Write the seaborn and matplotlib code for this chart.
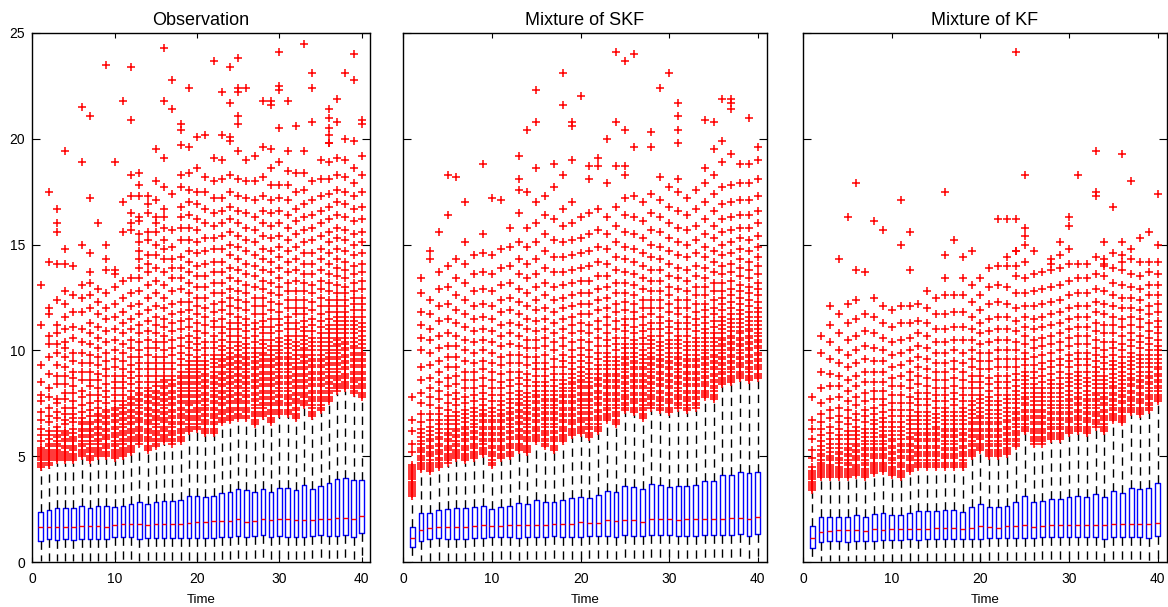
import numpy as np
import pandas as pd
import matplotlib
matplotlib.use("Agg")
import matplotlib.pyplot as plt
import seaborn as sns

# ---------------------------------------------------------------- data
time = list(range(1, 41))

titles = ["Observation", "Mixture of SKF", "Mixture of KF"]
x_ticks = [0, 10, 20, 30, 40]
y_ticks = [0, 5, 10, 15, 20, 25]

# Observation: quartiles, median, whisker ends
obs_q1 = [1.01, 1.07, 1.04, 1.08, 1.04, 1.07, 1.07, 1.10, 1.08, 1.18, 1.16, 1.18, 1.08, 1.12, 1.13, 1.13, 1.15, 1.15, 1.13, 1.13,
          1.13, 1.15, 1.16, 1.16, 1.23, 1.16, 1.23, 1.28, 1.20, 1.25, 1.20, 1.20, 1.18, 1.25, 1.26, 1.23, 1.23, 1.28, 1.18, 1.35]
obs_med = [1.67, 1.67, 1.65, 1.65, 1.67, 1.70, 1.68, 1.68, 1.65, 1.75, 1.80, 1.80, 1.80, 1.75, 1.80, 1.80, 1.80, 1.80, 1.83, 1.87,
           1.87, 1.92, 1.92, 1.92, 2.02, 1.87, 1.92, 2.05, 1.98, 2.05, 2.02, 1.97, 1.97, 1.98, 2.05, 2.05, 2.10, 2.10, 2.05, 2.17]
obs_q3 = [2.38, 2.46, 2.54, 2.55, 2.54, 2.65, 2.54, 2.65, 2.65, 2.61, 2.66, 2.73, 2.85, 2.74, 2.82, 2.90, 2.87, 2.93, 3.12, 3.14,
          3.09, 3.10, 3.28, 3.32, 3.43, 3.39, 3.31, 3.47, 3.32, 3.51, 3.48, 3.39, 3.64, 3.47, 3.60, 3.73, 3.94, 3.99, 3.86, 3.88]
obs_whi = [4.4, 4.5, 4.7, 4.7, 4.7, 4.9, 4.7, 4.9, 4.9, 4.8, 4.9, 5.1, 5.5, 5.2, 5.4, 5.6, 5.5, 5.6, 6.1, 6.2,
           6.0, 6.0, 6.5, 6.6, 6.7, 6.7, 6.4, 6.8, 6.5, 6.9, 6.9, 6.7, 7.3, 6.8, 7.1, 7.5, 8.0, 8.1, 7.9, 7.7]
obs_wlo = 0.03

# Observation outliers per time step (tenths)
obs_fliers = [
    "45 46 47 48 49 50 51 52 53 54 57 60 63 67 71 76 79 85 93 112 131",
    "46 47 48 49 50 51 52 53 55 56 58 60 62 66 69 73 78 82 89 97 103 107 117 120 142 175",
    "48 49 50 51 52 53 55 56 57 59 60 62 64 68 71 75 77 84 88 93 99 103 108 112 124 141 156 160 167",
    "48 49 50 51 52 54 55 57 58 60 61 62 65 67 70 73 77 80 84 88 92 97 101 104 110 116 122 128 141 148 194",
    "48 49 50 51 53 54 55 57 58 59 61 63 66 68 70 73 76 80 83 87 90 95 99 106 111 118 126 140",
    "50 51 52 53 55 56 57 59 60 62 63 65 66 68 71 74 78 81 86 90 94 99 104 110 118 125 131 150 189 215",
    "48 49 50 52 53 54 56 57 59 60 62 63 65 66 69 72 75 79 83 86 90 94 98 103 108 113 120 126 132 137 146 172 211",
    "50 51 52 53 54 56 57 58 60 61 63 64 66 67 69 70 73 76 79 82 86 89 93 97 101 106 111 117 123 129 160",
    "50 51 52 54 55 56 58 59 60 62 63 65 66 68 69 71 72 75 78 81 84 88 91 95 99 104 109 115 120 127 138 143 150 235",
    "49 50 51 52 53 55 56 57 59 60 61 63 64 66 67 69 70 72 73 76 79 82 85 88 92 96 100 105 110 116 122 130 136 138 189",
    "50 51 52 53 54 56 57 58 60 61 62 64 65 67 68 70 71 73 74 76 79 82 85 88 91 95 99 103 108 113 118 125 133 156 170 218",
    "52 53 54 55 57 58 59 61 62 63 65 66 68 69 71 72 74 75 77 78 81 84 87 90 93 97 101 105 110 115 121 127 134 157 160 165 173 183 209 234",
    "56 57 58 59 60 62 63 64 66 67 68 70 71 73 74 76 77 79 80 82 85 88 91 94 97 100 104 108 112 117 122 128 134 139 143 147 151 155 161 163 173 178 184",
    "53 54 55 57 58 59 61 62 63 65 66 67 69 70 72 73 75 76 78 79 81 82 85 88 91 94 98 101 105 109 114 119 125 131 137 141 145 152 156 165 169 173",
    "55 56 57 58 60 61 62 64 65 67 68 69 71 72 74 75 77 78 80 81 83 85 88 91 94 97 101 104 108 112 116 121 127 133 139 145 150 156 160 163 171 180 195",
    "57 58 59 60 62 63 64 66 67 68 70 71 73 74 76 77 79 80 82 83 85 86 88 91 94 97 100 104 107 111 115 120 125 131 137 143 148 152 158 163 167 177 191 218 243",
    "56 57 58 60 61 62 64 65 66 68 69 71 72 74 75 77 78 80 81 83 84 86 88 91 94 98 101 105 109 113 117 122 128 134 139 143 149 157 174 214 228",
    "57 58 59 61 62 63 65 66 68 69 70 72 73 75 76 78 79 81 82 84 85 87 88 90 93 96 99 102 106 110 114 118 123 129 134 139 144 152 158 163 168 177 183 197 204 207",
    "62 63 64 65 67 68 69 71 72 74 75 76 78 79 81 82 84 85 87 88 90 91 93 95 98 101 104 107 111 115 119 123 127 132 137 142 147 152 158 164 170 176 184 196 224",
    "63 64 65 67 68 69 71 72 73 75 76 78 79 81 82 84 85 87 88 90 91 93 95 97 100 103 106 109 113 117 121 125 130 135 140 146 151 157 162 169 175 186 201",
    "61 62 63 65 66 67 69 70 72 73 74 76 77 79 80 82 83 85 86 88 89 91 93 95 98 101 104 108 112 116 120 125 130 135 141 147 153 160 167 175 182 202",
    "61 62 63 65 66 68 69 70 72 73 75 76 78 79 81 82 84 85 87 88 90 92 94 96 98 101 104 107 111 114 118 122 127 132 137 142 148 153 159 165 172 180 191 237",
    "66 67 68 70 71 72 74 75 77 78 80 81 83 84 86 87 89 90 92 93 95 96 98 100 102 105 108 111 115 119 123 127 132 137 142 148 154 160 166 172 181 190 202 222",
    "67 68 69 71 72 73 75 76 78 79 81 82 84 85 87 88 90 91 93 94 96 97 99 101 104 107 110 113 117 121 125 129 134 139 145 150 156 162 168 175 183 199 201 217 234",
    "68 69 70 72 73 75 76 77 79 80 82 83 85 86 88 89 91 92 94 95 97 98 100 102 104 107 110 113 116 120 124 128 133 138 143 149 154 160 166 173 181 194 207 211 222 224 238",
    "68 69 71 72 73 75 76 78 79 81 82 84 85 87 88 90 91 93 94 96 97 99 101 103 106 109 112 115 119 123 127 131 136 141 147 152 158 165 172 180 190 224",
    "65 66 67 69 70 71 73 74 76 77 79 80 82 83 85 86 88 89 91 92 94 95 97 99 101 104 107 110 113 117 121 125 130 135 140 145 151 157 163 171 180 192",
    "69 70 71 73 74 75 77 78 80 81 83 84 86 87 89 90 92 93 95 96 98 99 101 103 105 108 111 114 117 121 125 129 133 138 143 148 154 160 166 173 182 196 218",
    "66 67 68 70 71 72 74 75 77 78 80 81 83 84 86 87 89 90 92 93 95 96 98 100 102 105 108 111 115 119 123 127 132 137 142 147 153 159 165 171 178 186 195 216 218",
    "70 71 72 74 75 76 78 79 81 82 84 85 87 88 90 91 93 94 96 97 99 100 102 104 106 109 112 115 118 122 126 130 134 139 144 149 154 160 166 172 178 189 205 223 225 241",
    "70 71 72 74 75 77 78 79 81 82 84 85 87 88 90 91 93 94 96 97 99 101 103 105 107 110 113 116 120 124 128 132 137 142 147 152 158 164 171 178 185 194 218",
    "68 69 70 72 73 75 76 77 79 80 82 83 85 86 88 89 91 92 94 96 98 100 102 104 107 110 113 117 120 124 128 133 138 143 149 155 161 167 175 184 206",
    "74 75 76 78 79 80 82 83 85 86 88 89 91 92 94 95 97 98 100 101 103 105 107 109 111 114 117 120 124 128 132 136 141 146 151 157 163 169 176 184 194 245",
    "69 70 71 73 74 76 77 78 80 81 83 84 86 87 89 90 92 93 95 96 98 100 102 104 106 109 112 115 119 123 127 131 136 141 146 152 158 164 171 180 208 224 231",
    "72 73 74 76 77 78 80 81 83 84 86 87 89 90 92 93 95 96 98 100 102 104 106 108 111 114 117 121 125 129 133 138 143 148 154 160 166 173 181 190",
    "76 77 78 80 81 82 84 85 87 88 90 91 93 94 96 97 99 100 102 104 106 108 110 112 115 118 121 124 128 132 136 141 146 151 156 162 168 174 181 189 198 198 202 205 210 214",
    "81 82 83 84 86 87 88 90 91 93 94 96 97 99 100 102 103 105 106 108 110 112 114 116 118 121 124 127 131 135 139 143 148 153 158 164 170 176 183 191 208 219",
    "82 83 84 85 87 88 89 91 92 94 95 97 98 100 101 103 104 106 108 110 112 114 116 118 121 124 127 130 134 138 142 147 152 157 163 169 175 182 190 200 231",
    "80 81 82 83 85 86 87 89 90 92 93 95 96 98 99 101 102 104 106 108 110 112 114 116 119 122 125 128 132 136 140 145 150 155 161 167 173 179 186 199 228 240",
    "78 79 80 82 83 84 86 87 89 90 92 93 95 96 98 99 101 103 105 107 109 111 113 116 119 122 125 129 133 137 141 146 151 156 162 168 175 183 192 207 209",
]

# Mixture of SKF
skf_q1 = [0.72, 0.98, 1.10, 1.12, 1.07, 1.07, 1.07, 1.13, 1.13, 1.18, 1.18, 1.18, 1.13, 1.18, 1.16, 1.16, 1.21, 1.18, 1.18, 1.20,
          1.23, 1.21, 1.21, 1.20, 1.26, 1.23, 1.25, 1.28, 1.26, 1.26, 1.21, 1.23, 1.25, 1.26, 1.28, 1.28, 1.28, 1.31, 1.23, 1.32]
skf_med = [1.12, 1.53, 1.61, 1.65, 1.65, 1.67, 1.65, 1.72, 1.73, 1.72, 1.70, 1.73, 1.73, 1.76, 1.73, 1.73, 1.81, 1.81, 1.81, 1.87,
           1.86, 1.86, 1.97, 1.95, 2.00, 1.99, 1.91, 2.02, 2.02, 2.02, 1.99, 2.03, 2.03, 2.03, 2.03, 2.05, 2.07, 2.07, 2.05, 2.11]
skf_q3 = [1.64, 2.30, 2.33, 2.44, 2.49, 2.57, 2.54, 2.61, 2.66, 2.52, 2.61, 2.66, 2.77, 2.74, 2.91, 2.82, 2.82, 2.93, 3.04, 3.09,
          3.02, 3.18, 3.36, 3.29, 3.58, 3.56, 3.43, 3.67, 3.63, 3.56, 3.61, 3.59, 3.66, 3.84, 3.81, 4.10, 4.13, 4.24, 4.19, 4.24]
skf_whi = [3.0, 4.3, 4.2, 4.4, 4.6, 4.8, 4.7, 4.8, 5.0, 4.5, 4.8, 4.9, 5.2, 5.1, 5.6, 5.4, 5.2, 5.6, 5.9, 6.0,
           5.8, 6.1, 6.6, 6.4, 7.1, 7.0, 6.7, 7.2, 7.1, 7.0, 7.2, 7.1, 7.2, 7.7, 7.6, 8.3, 8.4, 8.6, 8.5, 8.6]
skf_wlo = 0.03

skf_fliers = [
    "31 32 33 34 35 36 37 38 39 40 41 42 43 44 45 46 52 56 62 67 78",
    "44 45 46 47 48 49 50 52 53 54 56 57 59 61 63 66 70 75 80 86 92 100 106 112 118 127 134",
    "43 44 45 46 47 48 50 51 52 54 55 57 58 60 62 64 67 70 74 78 82 87 93 99 105 110 117 124 143 147",
    "45 46 47 48 49 51 52 53 55 56 58 59 61 63 65 67 70 73 77 81 85 90 95 101 107 114 121 129 137 156",
    "47 48 49 50 51 53 54 55 57 58 60 61 63 65 67 69 72 75 79 83 87 92 97 102 108 115 122 130 140 164 183",
    "49 50 51 52 53 55 56 57 59 60 62 63 65 67 69 71 74 77 80 84 88 92 97 102 107 113 119 126 134 143 182",
    "48 49 50 51 53 54 55 57 58 60 61 63 64 66 68 70 72 75 78 82 86 90 95 100 105 111 117 124 132 141 151 170",
    "49 50 51 52 54 55 56 58 59 61 62 64 65 67 69 71 73 76 79 82 86 90 94 99 104 109 115 121 128 136 145",
    "51 52 53 54 56 57 58 60 61 63 64 66 67 69 70 72 74 77 80 83 87 91 95 100 105 110 116 122 129 137 146 155 188",
    "46 47 48 50 51 52 54 55 57 58 60 61 63 64 66 67 69 71 73 76 79 82 86 90 94 99 104 109 115 121 128 136 145 172",
    "49 50 51 53 54 55 57 58 60 61 63 64 66 67 69 70 72 74 76 79 82 85 89 93 97 102 107 112 118 124 131 139 148 171",
    "50 51 52 54 55 56 58 59 61 62 64 65 67 68 70 71 73 75 77 80 83 86 90 94 98 103 108 113 119 125 132 140 149 158",
    "53 54 55 56 58 59 60 62 63 65 66 68 69 71 72 74 75 77 79 81 84 87 90 94 98 102 107 112 117 123 129 136 143 151 165 176 181 192",
    "52 53 54 55 57 58 59 61 62 64 65 67 68 70 71 73 74 76 78 80 83 86 89 93 97 101 105 110 115 121 127 134 141 149 158 175 204",
    "57 58 59 60 62 63 64 66 67 69 70 72 73 75 76 78 79 81 83 85 88 91 94 97 101 105 109 114 119 124 130 136 143 151 160 170 186 208 223",
    "55 56 57 58 60 61 62 64 65 67 68 70 71 73 74 76 77 79 81 83 85 88 91 94 98 102 106 110 115 120 126 132 139 147 155 164 173",
    "53 54 55 57 58 59 61 62 64 65 67 68 70 71 73 74 76 77 79 81 83 86 89 92 96 100 104 108 113 118 124 130 137 144 152 162 177 188",
    "57 58 59 60 62 63 64 66 67 69 70 72 73 75 76 78 79 81 82 84 86 89 92 95 98 102 106 110 115 120 125 131 137 144 151 159 167 183 216 231",
    "60 61 62 63 65 66 67 69 70 72 73 75 76 78 79 81 82 84 85 87 89 91 94 97 100 104 108 112 116 121 126 132 138 145 152 160 170 190 206 208",
    "61 62 63 64 66 67 68 70 71 73 74 76 77 79 80 82 83 85 86 88 90 92 95 98 101 105 109 113 117 122 127 133 139 146 153 163 220",
    "59 60 61 63 64 65 67 68 70 71 73 74 76 77 79 80 82 83 85 87 89 91 94 97 100 104 108 112 117 122 127 133 140 147 155 165 181 187",
    "62 63 64 65 67 68 69 71 72 74 75 77 78 80 81 83 84 86 87 89 91 93 96 99 102 106 110 114 119 124 129 135 142 149 157 167 187 191",
    "67 68 69 70 72 73 74 76 77 79 80 82 83 85 86 88 89 91 93 95 97 99 102 105 108 112 116 120 125 130 135 141 148 155 163 179 200",
    "65 66 67 69 70 71 73 74 76 77 79 80 82 83 85 86 88 89 91 93 95 97 100 103 106 110 114 118 122 127 132 138 144 151 159 168 187 208 241",
    "72 73 74 75 77 78 79 81 82 84 85 87 88 90 91 93 94 96 97 99 101 103 106 109 112 115 119 123 127 132 137 143 149 156 164 172 183 187 204 237",
    "71 72 73 75 76 77 79 80 82 83 85 86 88 89 91 92 94 95 97 99 101 103 105 108 111 115 118 122 126 131 136 142 148 155 163 173 196 240",
    "68 69 70 72 73 74 76 77 79 80 82 83 85 86 88 89 91 92 94 96 98 100 103 106 109 112 116 120 124 129 134 140 146 153 161 170",
    "73 74 75 77 78 79 81 82 84 85 87 88 90 91 93 94 96 97 99 101 103 105 107 110 113 117 120 124 128 133 138 144 150 157 165 174 196 203",
    "72 73 74 76 77 78 80 81 83 84 86 87 89 90 92 93 95 96 98 100 102 104 107 110 113 116 120 124 128 133 138 143 149 156 163 171 182 224",
    "71 72 73 75 76 77 79 80 82 83 85 86 88 89 91 92 94 95 97 99 101 103 105 108 111 114 118 122 126 130 135 141 147 153 160 168 177 231",
    "73 74 75 77 78 79 81 82 84 85 87 88 90 91 93 94 96 97 99 101 103 105 107 110 113 117 120 124 129 134 139 145 151 158 166 175 181 198 204 211 217",
    "72 73 74 76 77 78 80 81 83 84 86 87 89 90 92 93 95 96 98 100 102 104 107 110 113 116 120 124 128 133 138 144 150 157 164 172",
    "73 74 75 77 78 80 81 83 84 86 87 89 90 92 93 95 96 98 100 102 104 106 109 112 115 118 122 126 130 135 140 146 152 159 167 176",
    "78 79 80 81 83 84 85 87 88 90 91 93 94 96 97 99 100 102 104 106 108 110 113 116 119 122 126 130 134 139 144 149 155 162 170 179 186 209",
    "77 78 79 81 82 83 85 86 88 89 91 92 94 95 97 98 100 102 104 106 108 111 114 117 120 124 128 132 137 142 147 153 159 166 174 183 195 208",
    "84 85 86 87 89 90 91 93 94 96 97 99 100 102 103 105 106 108 110 112 114 116 119 122 125 128 132 136 140 145 150 156 162 169 177 189 199 219",
    "85 86 87 88 90 91 92 94 95 97 98 100 101 103 104 106 107 109 111 113 115 117 120 123 126 129 133 137 141 146 151 157 163 170 178 193 214 217 219",
    "87 88 89 90 92 93 94 96 97 99 100 102 103 105 106 108 109 111 113 115 117 119 122 125 128 131 135 139 143 148 153 158 164 171 179 188",
    "86 87 88 90 91 92 94 95 97 98 100 101 103 104 106 107 109 110 112 114 116 118 121 124 127 130 134 138 142 147 152 158 164 171 179 188 210",
    "87 88 89 91 92 93 95 96 98 99 101 102 104 105 107 108 110 112 114 116 118 120 123 126 129 132 136 140 144 149 154 160 166 173 181 190 196",
]

# Mixture of KF
kf_q1 = [0.68, 0.93, 0.99, 0.99, 0.96, 0.99, 0.98, 1.01, 1.04, 1.05, 1.05, 1.09, 1.05, 1.07, 1.07, 1.10, 1.10, 1.07, 1.07, 1.07,
         1.12, 1.12, 1.13, 1.12, 1.13, 1.13, 1.18, 1.18, 1.18, 1.20, 1.20, 1.16, 1.16, 1.10, 1.16, 1.16, 1.20, 1.20, 1.13, 1.23]
kf_med = [1.13, 1.43, 1.47, 1.50, 1.50, 1.51, 1.47, 1.56, 1.53, 1.58, 1.58, 1.58, 1.58, 1.55, 1.61, 1.61, 1.61, 1.58, 1.60, 1.70,
          1.65, 1.63, 1.71, 1.68, 1.75, 1.65, 1.70, 1.73, 1.76, 1.76, 1.75, 1.73, 1.73, 1.76, 1.78, 1.80, 1.81, 1.80, 1.80, 1.86]
kf_q3 = [1.72, 2.11, 2.14, 2.14, 2.12, 2.21, 2.14, 2.25, 2.30, 2.24, 2.21, 2.33, 2.39, 2.39, 2.39, 2.44, 2.44, 2.38, 2.58, 2.73,
         2.61, 2.61, 2.66, 2.82, 3.13, 2.85, 2.90, 2.96, 2.96, 3.09, 3.13, 3.07, 3.20, 3.09, 3.34, 3.26, 3.51, 3.47, 3.51, 3.72]
kf_whi = [3.3, 3.9, 3.9, 3.9, 3.9, 4.0, 3.9, 4.1, 4.2, 4.0, 3.9, 4.2, 4.4, 4.4, 4.4, 4.4, 4.4, 4.4, 4.9, 5.2,
          4.9, 4.9, 5.0, 5.4, 6.1, 5.5, 5.5, 5.7, 5.7, 6.0, 6.1, 6.0, 6.3, 6.1, 6.6, 6.5, 7.0, 6.9, 7.1, 7.5]
kf_wlo = 0.03

kf_fliers = [
    "34 35 36 37 38 39 40 41 42 43 45 49 53 58 63 67 78",
    "40 41 42 43 44 45 46 47 48 50 51 53 55 57 60 63 66 70 75 82 90 99 107",
    "40 41 42 43 44 45 46 48 49 50 52 54 56 58 61 64 68 72 77 83 89 96 104 112 121",
    "40 41 42 43 44 45 47 48 49 51 52 54 56 58 60 63 66 69 73 78 83 88 94 100 108 117 143",
    "40 41 42 43 44 46 47 48 50 51 53 54 56 58 60 62 65 68 72 76 81 86 92 98 105 113 122 163",
    "41 42 43 44 45 46 48 49 50 52 53 55 56 58 60 62 64 67 70 74 78 83 88 94 100 107 115 124 138 179",
    "40 41 42 43 44 46 47 48 50 51 53 54 56 57 59 61 63 66 69 72 76 80 85 90 96 102 109 117 137",
    "42 43 44 45 46 47 49 50 51 53 54 56 57 59 61 63 65 67 70 73 77 81 85 90 95 101 108 116 125 161",
    "43 44 45 46 47 49 50 51 53 54 56 57 59 60 62 64 66 68 71 74 77 81 85 90 95 100 106 113 121 157",
    "41 42 43 44 45 47 48 49 51 52 54 55 57 58 60 62 64 66 69 72 75 79 83 87 92 98 104 111 119",
    "40 41 42 43 45 46 47 49 50 52 53 55 56 58 60 62 64 66 69 72 75 79 83 88 93 99 105 113 121 150 171",
    "43 44 45 46 48 49 50 52 53 55 56 58 59 61 63 65 67 69 72 75 78 82 86 90 95 100 106 113 121 138 156",
    "45 46 47 48 50 51 52 54 55 57 58 60 61 63 65 67 69 71 74 77 80 84 88 92 97 102 108 114 122",
    "45 46 47 48 50 51 52 54 55 57 58 60 61 63 65 67 69 71 74 77 80 83 87 91 96 101 107 113 120 128",
    "45 46 47 48 50 51 52 54 55 57 58 60 61 63 64 66 68 70 73 76 79 82 86 90 94 99 104 110 117 125",
    "45 46 47 49 50 51 53 54 56 57 59 60 62 63 65 67 69 71 73 76 79 82 86 90 94 99 104 110 117 126 134 145 175",
    "45 46 47 49 50 51 53 54 56 57 59 60 62 63 65 67 69 71 74 77 80 83 87 91 95 100 105 111 118 126 152",
    "45 46 47 48 50 51 52 54 55 57 58 60 61 63 65 67 69 71 73 76 79 82 86 90 94 99 105 111 118 126 134 144",
    "50 51 52 53 55 56 57 59 60 62 63 65 66 68 70 72 74 76 79 82 85 88 92 96 100 105 110 116 123 131 147",
    "53 54 55 56 58 59 60 62 63 65 66 68 69 71 73 75 77 79 82 85 88 91 95 99 103 108 113 119 126 134",
    "50 51 52 53 55 56 57 59 60 62 63 65 66 68 70 72 74 76 78 81 84 87 91 95 99 104 109 115 122 130 139",
    "50 51 52 53 55 56 57 59 60 62 63 65 66 68 70 72 74 76 79 82 85 88 92 96 100 105 110 116 123 131 140 162",
    "51 52 53 54 56 57 58 60 61 63 64 66 67 69 71 73 75 77 79 82 85 88 92 96 100 105 110 116 122 130 140 144 162",
    "55 56 57 58 60 61 62 64 65 67 68 70 71 73 75 77 79 81 83 86 89 92 96 100 104 109 114 120 127 135 140 147 147 162 241",
    "62 63 64 65 67 68 69 71 72 74 75 77 78 80 82 84 86 88 90 93 96 99 103 107 111 116 121 127 134 142 150 154 158 183",
    "56 57 58 59 61 62 63 65 66 68 69 71 72 74 76 78 80 82 84 87 90 93 97 101 105 110 115 121 128 136 147",
    "56 57 58 59 61 62 63 65 66 68 69 71 72 74 76 78 80 82 85 88 91 94 98 102 106 111 116 122 129 137",
    "58 59 60 61 63 64 65 67 68 70 71 73 74 76 78 80 82 84 86 89 92 95 99 103 107 112 117 123 130 138 141 143",
    "58 59 60 61 63 64 65 67 68 70 71 73 74 76 78 80 82 84 87 90 93 96 100 104 108 113 118 124 131 139 145 151",
    "61 62 63 64 66 67 68 70 71 73 74 76 77 79 81 83 85 87 89 92 95 98 102 106 110 115 120 126 133 141 148 159 163",
    "62 63 64 65 67 68 69 71 72 74 75 77 78 80 82 84 86 88 90 93 96 99 103 107 111 116 121 127 134 141 183",
    "61 62 63 64 66 67 68 70 71 73 74 76 77 79 81 83 85 87 90 93 96 99 103 107 111 116 121 127 134 141",
    "64 65 66 67 69 70 71 73 74 76 77 79 80 82 84 86 88 90 92 95 98 101 105 109 113 118 123 129 136 144 173 175 194",
    "62 63 64 65 67 68 69 71 72 74 75 77 78 80 82 84 86 88 91 94 97 100 104 108 112 117 122 128 135 140 141 143 151",
    "67 68 69 70 72 73 74 76 77 79 80 82 83 85 87 89 91 93 95 98 101 104 108 112 116 121 126 132 139 146 168",
    "66 67 68 69 71 72 73 75 76 78 79 81 82 84 86 88 90 92 94 97 100 103 107 111 115 120 125 131 138 142 145 151 193",
    "71 72 73 74 76 77 78 80 81 83 84 86 87 89 91 93 95 97 99 102 105 108 112 116 120 125 130 136 143 148 180",
    "70 71 72 73 75 76 77 79 80 82 83 85 86 88 90 92 94 96 98 101 104 107 111 115 119 124 129 135 142 153",
    "72 73 74 75 77 78 79 81 82 84 85 87 88 90 92 94 96 98 100 103 106 109 113 117 121 126 131 137 142 156",
    "76 77 78 79 81 82 83 85 86 88 89 91 92 94 96 98 100 102 105 108 111 114 118 122 126 131 136 142 150 174",
]

panels = [
    (obs_q1, obs_med, obs_q3, obs_wlo, obs_whi, obs_fliers),
    (skf_q1, skf_med, skf_q3, skf_wlo, skf_whi, skf_fliers),
    (kf_q1, kf_med, kf_q3, kf_wlo, kf_whi, kf_fliers),
]

# ---------------------------------------------------------------- style
sns.set_style("ticks")
plt.rcParams["font.family"] = ["Liberation Sans", "DejaVu Sans"]
plt.rcParams["axes.linewidth"] = 1.0
plt.rcParams["text.color"] = "black"
plt.rcParams["axes.labelcolor"] = "black"
plt.rcParams["xtick.color"] = "black"
plt.rcParams["ytick.color"] = "black"

W, H = 1168, 607
fig = plt.figure(figsize=(W / 100, H / 100), dpi=100)

# axes rectangles in pixels: left, right
rects = [(32.3, 370.0), (403.3, 766.7), (803.3, 1166.5)]
top_px, bottom_px = 33.0, 562.0

for i, (title, (q1, med, q3, wlo, whi, fl)) in enumerate(zip(titles, panels)):
    l, r = rects[i]
    ax = fig.add_axes([l / W, (H - bottom_px) / H, (r - l) / W, (bottom_px - top_px) / H])

    stats = [
        dict(med=m, q1=a, q3=b, whislo=wlo, whishi=h, fliers=[])
        for a, m, b, h in zip(q1, med, q3, whi)
    ]
    ax.bxp(
        stats,
        positions=time,
        widths=0.55,
        showfliers=False,
        showcaps=False,
        manage_ticks=False,
        boxprops=dict(color="#0000ff", linewidth=1.0),
        medianprops=dict(color="#ff0000", linewidth=1.0),
        whiskerprops=dict(color="black", linewidth=1.0, linestyle=(0, (6, 4))),
    )

    rows = [(t, int(v) / 10) for t, s in zip(time, fl) for v in s.split()]
    df = pd.DataFrame(rows, columns=["Time", "Value"])
    sns.scatterplot(
        data=df, x="Time", y="Value", ax=ax,
        marker="+", color="#ff0000", s=27, linewidth=1.1,
        legend=False, zorder=3,
    )

    ax.set_xlim(0, 41)
    ax.set_ylim(0, 25)
    ax.set_xticks(x_ticks)
    ax.set_yticks(y_ticks)
    ax.tick_params(axis="both", direction="in", top=True, right=True,
                   labelsize=10, colors="black", width=0.8)
    ax.tick_params(axis="x", length=3.5, pad=7)
    ax.tick_params(axis="y", length=6, pad=5)
    if i > 0:
        ax.set_yticklabels([])
    for sp in ax.spines.values():
        sp.set_visible(True)
        sp.set_color("black")
    ax.set_title(title, fontsize=13, pad=6, color="black")
    ax.set_xlabel("Time", fontsize=9.5, labelpad=6)
    ax.set_ylabel("")

fig.savefig("out.png", dpi=100)
